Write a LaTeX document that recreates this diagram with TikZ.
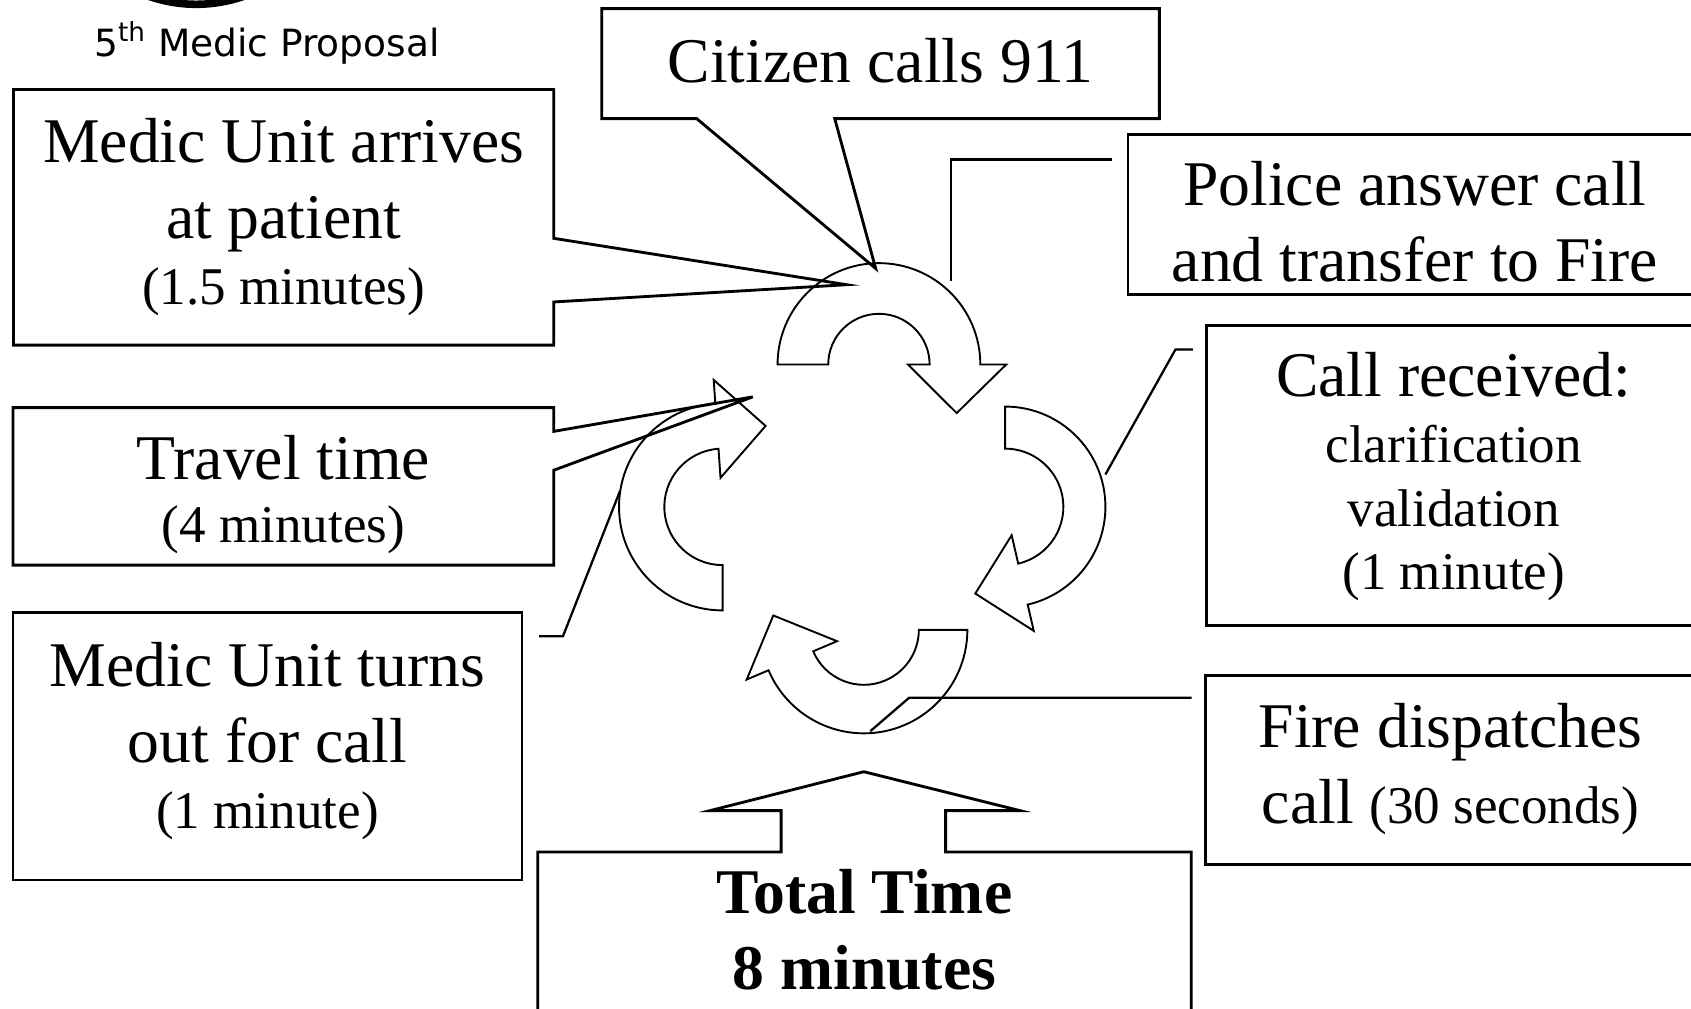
\documentclass[tikz,border=0pt]{standalone}
\usepackage{fontspec}
\setmainfont{Liberation Serif}
\newfontfamily\logofont{DejaVu Sans}
\usetikzlibrary{calc,positioning}
\newcommand{\bigtxt}{\fontsize{33.6}{40}\selectfont}
\newcommand{\smalltxt}{\fontsize{28}{33.5}\selectfont}
% center, outer radius, inner radius, tail angle, head angle
\newcommand{\cyclearrow}[5]{%
	\draw[cyc] ($(#1)+(#4:#2)$) arc[start angle=#4, end angle=#5, radius=#2]
		-- ($(#1)+(#5:118)$) -- ($(#1)+(#5+32:85)$) -- ($(#1)+(#5:27)$)
		-- ($(#1)+(#5:#3)$) arc[start angle=#5, end angle=#4, radius=#3] -- cycle;}

\begin{document}
\begin{tikzpicture}[
	x=0.02cm, y=-0.02cm,
	every node/.style = {shape=rectangle, inner sep=0pt, outer sep=0pt,
	align=center, font=\bigtxt},
	boxsize/.style 2 args = {minimum width=#1*0.02cm, minimum height=#2*0.02cm},
	stepbox/.style = {draw, line width=1.5pt},
	outline/.style = {draw, line width=1.5pt, line join=miter},
	cyc/.style = {draw, line width=1pt},
	leader/.style = {draw, line width=1.2pt}
]
\useasboundingbox (0,0) rectangle (1568,935);

% logo
\coordinate (logo) at (182,-130);
\draw[line width=0.14cm] (logo) ++(60:134) arc[start angle=60, end angle=120, radius=134];
\node[font={\logofont\fontsize{19.8}{23}\selectfont}, anchor=base] (logotext) at (247.5,52)
	{5\textsuperscript{th} Medic Proposal};

% boxes
\node[boxsize={517}{102}] (citizen) at (816.5,59) {};
\node[stepbox, boxsize={532}{148}] (police) at (1312,199) {};
\node[stepbox, boxsize={458}{278}] (received) at (1348,441) {};
\node[stepbox, boxsize={454}{176}] (dispatch) at (1345,714) {};
\node[stepbox, boxsize={472}{248}] (turnout) at (248,692) {};
\node[boxsize={501}{237}] (arrive) at (263,201.5) {};
\node[boxsize={501.5}{146}] (travel) at (262.75,451) {};
\node[boxsize={606}{150}] (total) at (801.6,865) {};

% texts
\node (citizen-t) at ($(citizen)+(0,-3)$) {Citizen calls 911};
\node (police-t) at ($(police)+(0,6.5)$) {Police answer call\\and transfer to Fire};
\node (received-t) at ($(received)+(0,1)$)
	{Call received:\\[-5pt]{\smalltxt clarification}\\[-6.5pt]{\smalltxt validation}\\[-6.5pt]{\smalltxt (1 minute)}};
\node (dispatch-t) at ($(dispatch)+(0,-1)$) {Fire dispatches\\call {\smalltxt (30 seconds)}};
\node (turnout-t) at ($(turnout)+(0,-5)$) {Medic Unit turns\\out for call\\[-5pt]{\smalltxt (1 minute)}};
\node (arrive-t) at (arrive) {Medic Unit arrives\\at patient\\[-5pt]{\smalltxt (1.5 minutes)}};
\node (travel-t) at ($(travel)+(0,7.5)$) {Travel time\\[-6.7pt]{\smalltxt (4 minutes)}};
\node[font=\bigtxt\bfseries] (total-t) at ($(total)+(0,-3)$) {Total Time\\8 minutes};

% callout tips
\coordinate (cit-tip) at (812,249);
\coordinate (arr-tip) at (785,264);
\coordinate (trv-tip) at (698,368);
\coordinate (tot-tip) at (801,715.6);

\draw[outline] (citizen.south west) -- (citizen.north west) -- (citizen.north east) -- (citizen.south east)
	-- ($(citizen.south west)+(216,0)$) -- (cit-tip) -- ($(citizen.south west)+(88,0)$) -- cycle;
\draw[outline] (arrive.north west) -- (arrive.north east) -- ($(arrive.north east)+(0,138)$) -- (arr-tip)
	-- ($(arrive.north east)+(0,197)$) -- (arrive.south east) -- (arrive.south west) -- cycle;
\draw[outline] (travel.north west) -- (travel.north east) -- ($(travel.north east)+(0,22)$) -- (trv-tip)
	-- ($(travel.north east)+(0,58)$) -- (travel.south east) -- (travel.south west) -- cycle;
\draw[outline] (total.south west) -- (total.north west) -- ($(total.north west)+(225.7,0)$) -- ++(0,-38.3)
	-- ($(total.north west)+(159.6,-38.3)$) -- (tot-tip) -- ($(total.north west)+(447.3,-38.3)$)
	-- ($(total.north west)+(378.2,-38.3)$) -- ($(total.north west)+(378.2,0)$) -- (total.north east) -- (total.south east);

% leaders
\coordinate (pol-c) at ($(police.north west)+(-15,23)$);
\coordinate (pol-end) at (882,261);
\draw[leader] (pol-c) -| (pol-end);
\coordinate (rec-c) at ($(received.north west)+(-13,22)$);
\coordinate (rec-end) at (1025,440);
\draw[leader] (rec-c) -- ++(-16,0) -- (rec-end);
\coordinate (dis-c) at ($(dispatch.north west)+(-13,21)$);
\coordinate (dis-end) at (807,678);
\draw[leader] (dis-c) -- ++(-262,0) -- (dis-end);
\coordinate (trn-c) at ($(turnout.north east)+(16,22)$);
\coordinate (trn-end) at (575,455);
\draw[leader] (trn-c) -- ++(22,0) -- (trn-end);

% cycle
\coordinate (c-top) at (815,338);
\coordinate (c-right) at (932,470);
\coordinate (c-bottom) at (801,584);
\coordinate (c-left) at (670,470);
\cyclearrow{c-top}{94}{47}{180}{360}
\cyclearrow{c-right}{93}{54}{-90}{77}
\cyclearrow{c-bottom}{96}{51}{0}{157}
\cyclearrow{c-left}{96}{54}{90}{266}
\end{tikzpicture}
\end{document}
